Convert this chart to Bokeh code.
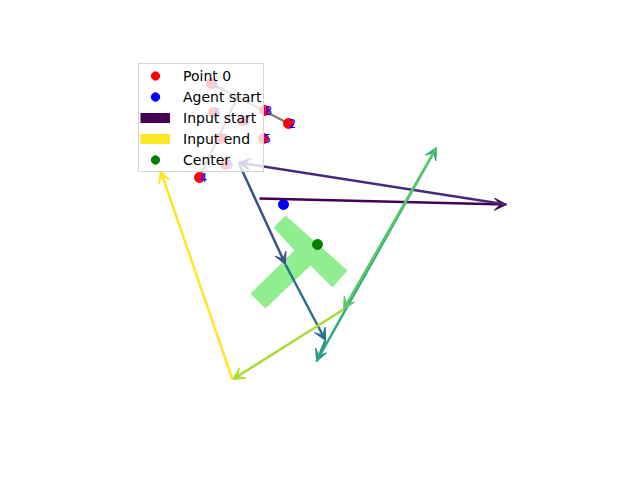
from bokeh.plotting import figure
from bokeh.models import ColumnDataSource, Range1d, Arrow, VeeHead, Legend, LegendItem
from bokeh.palettes import viridis
from bokeh.core.properties import value
from bokeh.embed import file_html
from bokeh.resources import INLINE

# Puntos numerados
pt_x = [-1.90, -2.18, -0.64, -1.56, -2.42, -1.14, -2.14, -2.00, -1.12]
pt_y = [1.52, 3.14, 2.34, 2.40, 1.26, 2.04, 2.56, 2.04, 2.60]
pt_label = ["0", "1", "2", "3", "4", "5", "6", "7", "8"]

# Tramos grises del recorrido
seg_x0 = [-2.18, -2.42]
seg_y0 = [3.14, 1.26]
seg_x1 = [-0.64, -1.66]
seg_y1 = [2.34, 2.87]

# Entradas (flechas encadenadas)
in_x = [-1.22, 3.72, -1.64, -0.70, 0.10, -0.08, 2.32, 0.46, -1.76, -3.20]
in_y = [0.84, 0.72, 1.56, -0.48, -2.00, -2.42, 1.86, -1.38, -2.78, 1.40]

# Forma en T
t_x = [-0.70, 0.54, 0.24, -0.20, -1.10, -1.40, -0.52, -0.94]
t_y = [0.50, -0.60, -0.94, -0.50, -1.36, -1.06, -0.20, 0.26]

agent_x, agent_y = [-0.74], [0.72]
center_x, center_y = [-0.06], [-0.08]

p = figure(width=624, height=464, output_backend="svg", toolbar_location=None,
           x_range=Range1d(-6.4, 6.08), y_range=Range1d(-4.48, 4.8),
           min_border=0, outline_line_color=None)
p.axis.visible = False
p.grid.visible = False

p.patch(t_x, t_y, fill_color="lightgreen", line_color=None)

p.segment(seg_x0, seg_y0, seg_x1, seg_y1, line_color="gray", line_width=2.5)

src = ColumnDataSource(dict(x=pt_x, y=pt_y, label=pt_label))
p.scatter("x", "y", source=src, size=10, color="red")
p.text("x", "y", text="label", source=src, text_color="blue", text_font_size="12px",
       text_font=value("DejaVu Sans"), text_align="left", text_baseline="alphabetic")

colors = viridis(len(in_x) - 1)
for i in range(len(in_x) - 1):
    p.add_layout(Arrow(x_start=in_x[i], y_start=in_y[i], x_end=in_x[i + 1], y_end=in_y[i + 1],
                       line_color=colors[i], line_width=2.5,
                       end=VeeHead(size=12, fill_color=colors[i], line_color=colors[i], line_width=1)))

p.scatter(agent_x, agent_y, size=10, color="blue")
p.scatter(center_x, center_y, size=10, color="green")

# Entradas de leyenda (fuera del rango visible)
off = [100, 101]
r_pt = p.scatter(off[:1], off[:1], size=10, color="red")
r_ag = p.scatter(off[:1], off[:1], size=10, color="blue")
r_is = p.line(off, off, line_color=colors[0], line_width=10)
r_ie = p.line(off, off, line_color=colors[-1], line_width=10)
r_ce = p.scatter(off[:1], off[:1], size=10, color="green")

legend = Legend(items=[LegendItem(label="Point 0", renderers=[r_pt]),
                       LegendItem(label="Agent start", renderers=[r_ag]),
                       LegendItem(label="Input start", renderers=[r_is]),
                       LegendItem(label="Input end", renderers=[r_ie]),
                       LegendItem(label="Center", renderers=[r_ce])],
                location=(138, 292), margin=0, padding=1, spacing=0,
                glyph_width=30, glyph_height=21, label_standoff=13,
                label_text_font_size="14px", label_text_font="DejaVu Sans",
                label_text_color="black",
                background_fill_alpha=0.8, border_line_color="#cccccc",
                border_line_alpha=0.8)
p.add_layout(legend)

open("out.html", "w").write(file_html(p, INLINE))
